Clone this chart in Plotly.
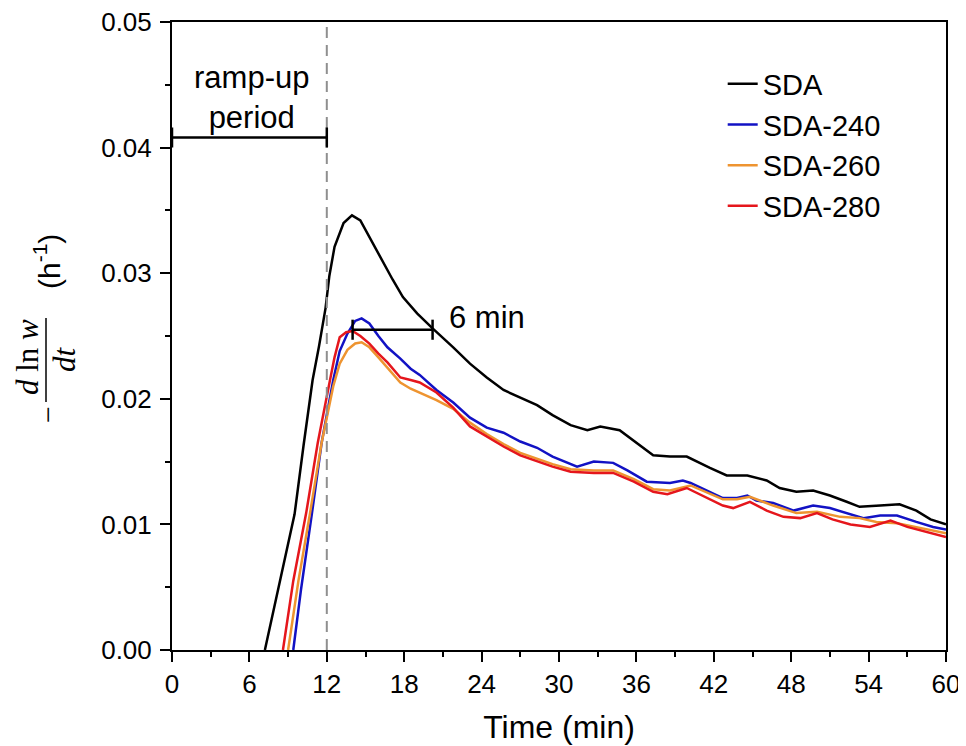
import plotly.graph_objects as go

# ---------------- data ----------------
series_names = ["SDA", "SDA-240", "SDA-260", "SDA-280"]

t_sda = [7.2, 7.8, 8.4, 9.0, 9.5, 10.2, 10.9, 11.4, 11.9, 12.2, 12.6, 13.3, 13.95, 14.6,
         15.7, 16.4, 17.1, 17.9, 19.0, 20.2, 21.8, 23.1, 24.4, 25.7, 27.0, 28.3, 29.5,
         30.9, 32.2, 33.2, 34.7, 36.0, 37.3, 38.6, 39.9, 41.7, 43.0, 44.6, 46.1, 47.1,
         48.4, 49.7, 51.0, 52.3, 53.3, 54.9, 56.4, 57.7, 58.8, 60.0]
v_sda = [0.0, 0.0028, 0.0055, 0.0082, 0.0108, 0.0163, 0.0215, 0.0242, 0.0272, 0.0298,
         0.0321, 0.0340, 0.0346, 0.0342, 0.0321, 0.0308, 0.0295, 0.0281, 0.0268, 0.0256,
         0.0241, 0.0228, 0.0217, 0.0207, 0.0201, 0.0195, 0.0187, 0.0179, 0.0175, 0.0178,
         0.0175, 0.0165, 0.0155, 0.0154, 0.0154, 0.0145, 0.0139, 0.0139, 0.0135, 0.0129,
         0.0126, 0.0127, 0.0123, 0.0118, 0.0114, 0.0115, 0.0116, 0.0111, 0.0104, 0.0100]

t_240 = [9.4, 10.0, 10.85, 11.6, 12.5, 13.0, 13.6, 14.2, 14.7, 15.3, 16.0, 16.7, 17.7,
         18.5, 19.2, 20.5, 21.8, 23.1, 24.4, 25.7, 27.0, 28.3, 29.5, 30.5, 31.4, 32.7,
         34.2, 35.3, 36.8, 38.6, 39.6, 40.2, 41.5, 42.7, 43.8, 44.6, 45.3, 46.6, 48.2,
         49.7, 51.0, 52.3, 53.6, 54.9, 56.2, 57.7, 59.0, 60.0]
v_240 = [0.0, 0.0048, 0.0109, 0.0165, 0.0215, 0.0238, 0.0252, 0.0262, 0.0264, 0.0260,
         0.0250, 0.0241, 0.0232, 0.0224, 0.0219, 0.0207, 0.0197, 0.0185, 0.0177, 0.0173,
         0.0166, 0.0161, 0.0154, 0.0150, 0.0146, 0.0150, 0.0149, 0.0143, 0.0134, 0.0133,
         0.0135, 0.0133, 0.0127, 0.0121, 0.0121, 0.0123, 0.0119, 0.0117, 0.0111, 0.0115,
         0.0113, 0.0109, 0.0105, 0.0107, 0.0107, 0.0102, 0.0098, 0.0096]

t_260 = [9.0, 9.8, 10.7, 11.6, 12.5, 13.0, 13.6, 14.2, 14.7, 15.3, 16.0, 16.7, 17.7,
         18.5, 19.2, 20.5, 21.8, 23.1, 24.4, 25.7, 27.0, 28.3, 29.5, 30.9, 32.7, 34.2,
         35.8, 37.3, 38.6, 40.2, 41.5, 42.7, 43.8, 44.8, 46.6, 48.4, 50.0, 51.8, 53.3,
         54.6, 56.2, 58.2, 60.0]
v_260 = [0.0, 0.0055, 0.0109, 0.0165, 0.0210, 0.0228, 0.0239, 0.0244, 0.0245, 0.0241,
         0.0233, 0.0225, 0.0213, 0.0208, 0.0205, 0.0199, 0.0192, 0.0181, 0.0172, 0.0164,
         0.0157, 0.0152, 0.0148, 0.0144, 0.0143, 0.0143, 0.0136, 0.0128, 0.0127, 0.0131,
         0.0125, 0.0120, 0.0120, 0.0122, 0.0115, 0.0109, 0.0110, 0.0106, 0.0105, 0.0102,
         0.0101, 0.0097, 0.0093]

t_280 = [8.6, 9.4, 10.4, 11.3, 12.25, 12.6, 13.0, 13.5, 14.0, 14.6, 15.3, 16.0, 16.7,
         17.7, 18.5, 19.2, 20.5, 21.8, 23.1, 24.4, 25.7, 27.0, 28.3, 29.5, 30.9, 32.7,
         34.2, 35.8, 37.3, 38.4, 39.9, 41.5, 42.7, 43.5, 44.8, 46.1, 47.4, 48.7, 50.0,
         51.2, 52.6, 54.1, 55.7, 57.0, 58.8, 60.0]
v_280 = [0.0, 0.0055, 0.0109, 0.0165, 0.0215, 0.0233, 0.0249, 0.0253, 0.0254, 0.0250,
         0.0244, 0.0236, 0.0229, 0.0217, 0.0215, 0.0213, 0.0205, 0.0193, 0.0178, 0.0170,
         0.0162, 0.0155, 0.0150, 0.0146, 0.0142, 0.0141, 0.0141, 0.0134, 0.0126, 0.0124,
         0.0129, 0.0121, 0.0115, 0.0113, 0.0118, 0.0111, 0.0106, 0.0105, 0.0109, 0.0104,
         0.0100, 0.0098, 0.0103, 0.0098, 0.0093, 0.0090]

x_tick_vals = [0, 6, 12, 18, 24, 30, 36, 42, 48, 54, 60]
y_tick_vals = [0.00, 0.01, 0.02, 0.03, 0.04, 0.05]

ramp_end = 12          # end of ramp-up period (min)
ramp_bar_y = 0.0408
peak_t, peak_shift_t, shift_bar_y = 14.0, 20.2, 0.0255

# ---------------- figure ----------------
colors = ["#000000", "#1212c4", "#ee9430", "#e5161c"]
xs = [t_sda, t_240, t_260, t_280]
ys = [v_sda, v_240, v_260, v_280]

fig = go.Figure()
for name, x, y, c in zip(series_names, xs, ys, colors):
    fig.add_trace(go.Scatter(x=x, y=y, mode="lines", name=name,
                             line=dict(color=c, width=2.5)))

FONT = "Liberation Sans, Arial, sans-serif"
SERIF = "Liberation Serif, Times New Roman, serif"

axis_common = dict(showline=True, linecolor="black", linewidth=2, mirror=True,
                   ticks="outside", ticklen=10, tickwidth=2, tickcolor="black",
                   showgrid=False, zeroline=False, automargin=False,
                   ticklabeloverflow="allow",
                   tickfont=dict(family=FONT, size=26, color="black"))

fig.update_xaxes(range=[0, 60], tickvals=x_tick_vals,
                 minor=dict(dtick=3, ticks="outside", ticklen=5, tickwidth=2,
                            tickcolor="black", showgrid=False),
                 title=dict(text="Time (min)", font=dict(family=FONT, size=32, color="black"),
                            standoff=17),
                 **axis_common)
fig.update_yaxes(range=[0, 0.05], tickvals=y_tick_vals, tickformat=".2f",
                 ticklabelstandoff=3,
                 minor=dict(dtick=0.005, ticks="outside", ticklen=5, tickwidth=2,
                            tickcolor="black", showgrid=False),
                 **axis_common)

# dashed vertical line marking end of ramp-up
fig.add_shape(type="line", x0=ramp_end, x1=ramp_end, y0=0, y1=0.05, xref="x", yref="y",
              line=dict(color="#8f8f8f", width=2, dash="11px,7px"))

# ramp-up bracket
cap = 0.0008
fig.add_shape(type="line", x0=0, x1=ramp_end, y0=ramp_bar_y, y1=ramp_bar_y,
              line=dict(color="black", width=2.5))
for xx in (0, ramp_end):
    fig.add_shape(type="line", x0=xx, x1=xx, y0=ramp_bar_y - cap, y1=ramp_bar_y + cap,
                  line=dict(color="black", width=2.5))
fig.add_annotation(x=6.2, y=0.0440, text="ramp-up<br>period", showarrow=False,
                   xanchor="center", yanchor="middle",
                   font=dict(family=FONT, size=31, color="black"))

# 6 min bracket
fig.add_shape(type="line", x0=peak_t, x1=peak_shift_t, y0=shift_bar_y, y1=shift_bar_y,
              line=dict(color="black", width=2.5))
for xx in (peak_t, peak_shift_t):
    fig.add_shape(type="line", x0=xx, x1=xx, y0=shift_bar_y - cap, y1=shift_bar_y + cap,
                  line=dict(color="black", width=2.5))
fig.add_annotation(x=21.3, y=0.0265, text="6 min", showarrow=False,
                   xanchor="left", yanchor="middle",
                   font=dict(family=FONT, size=31, color="black"))

# y-axis title:  -(d ln w / dt) (h^-1)   (positions given in window pixels)
OFF = 8  # page body margin


def px_x(p):
    return (p - OFF - 164) / 774


def px_y(p):
    return (650 - p) / 628


def rot_text(px, py, text, family, size):
    fig.add_annotation(xref="paper", yref="paper", x=px_x(px), y=px_y(py),
                       xanchor="center", yanchor="middle", textangle=-90,
                       text=text, showarrow=False,
                       font=dict(family=family, size=size, color="black"))


rot_text(27, 357, "<i>d</i> ln <i>w</i>", SERIF, 31)
rot_text(65, 359, "<i>dt</i>", SERIF, 31)
rot_text(47, 415, "−", SERIF, 30)
rot_text(47, 262, "(h<sup>-1</sup>)", FONT, 30)
fig.add_shape(type="line", xref="paper", yref="paper", x0=px_x(46), x1=px_x(46),
              y0=px_y(318), y1=px_y(402), line=dict(color="black", width=1.5))

fig.update_layout(
    width=958, height=746,
    margin=dict(l=164, r=20, t=14, b=104),
    paper_bgcolor="white", plot_bgcolor="white",
    font=dict(family=FONT, color="black"),
    showlegend=True,
    legend=dict(x=0.7115, y=0.942, xanchor="left", yanchor="top",
                bgcolor="rgba(0,0,0,0)", borderwidth=0,
                font=dict(family=FONT, size=29, color="black")),
)

fig.write_html("out.html")
